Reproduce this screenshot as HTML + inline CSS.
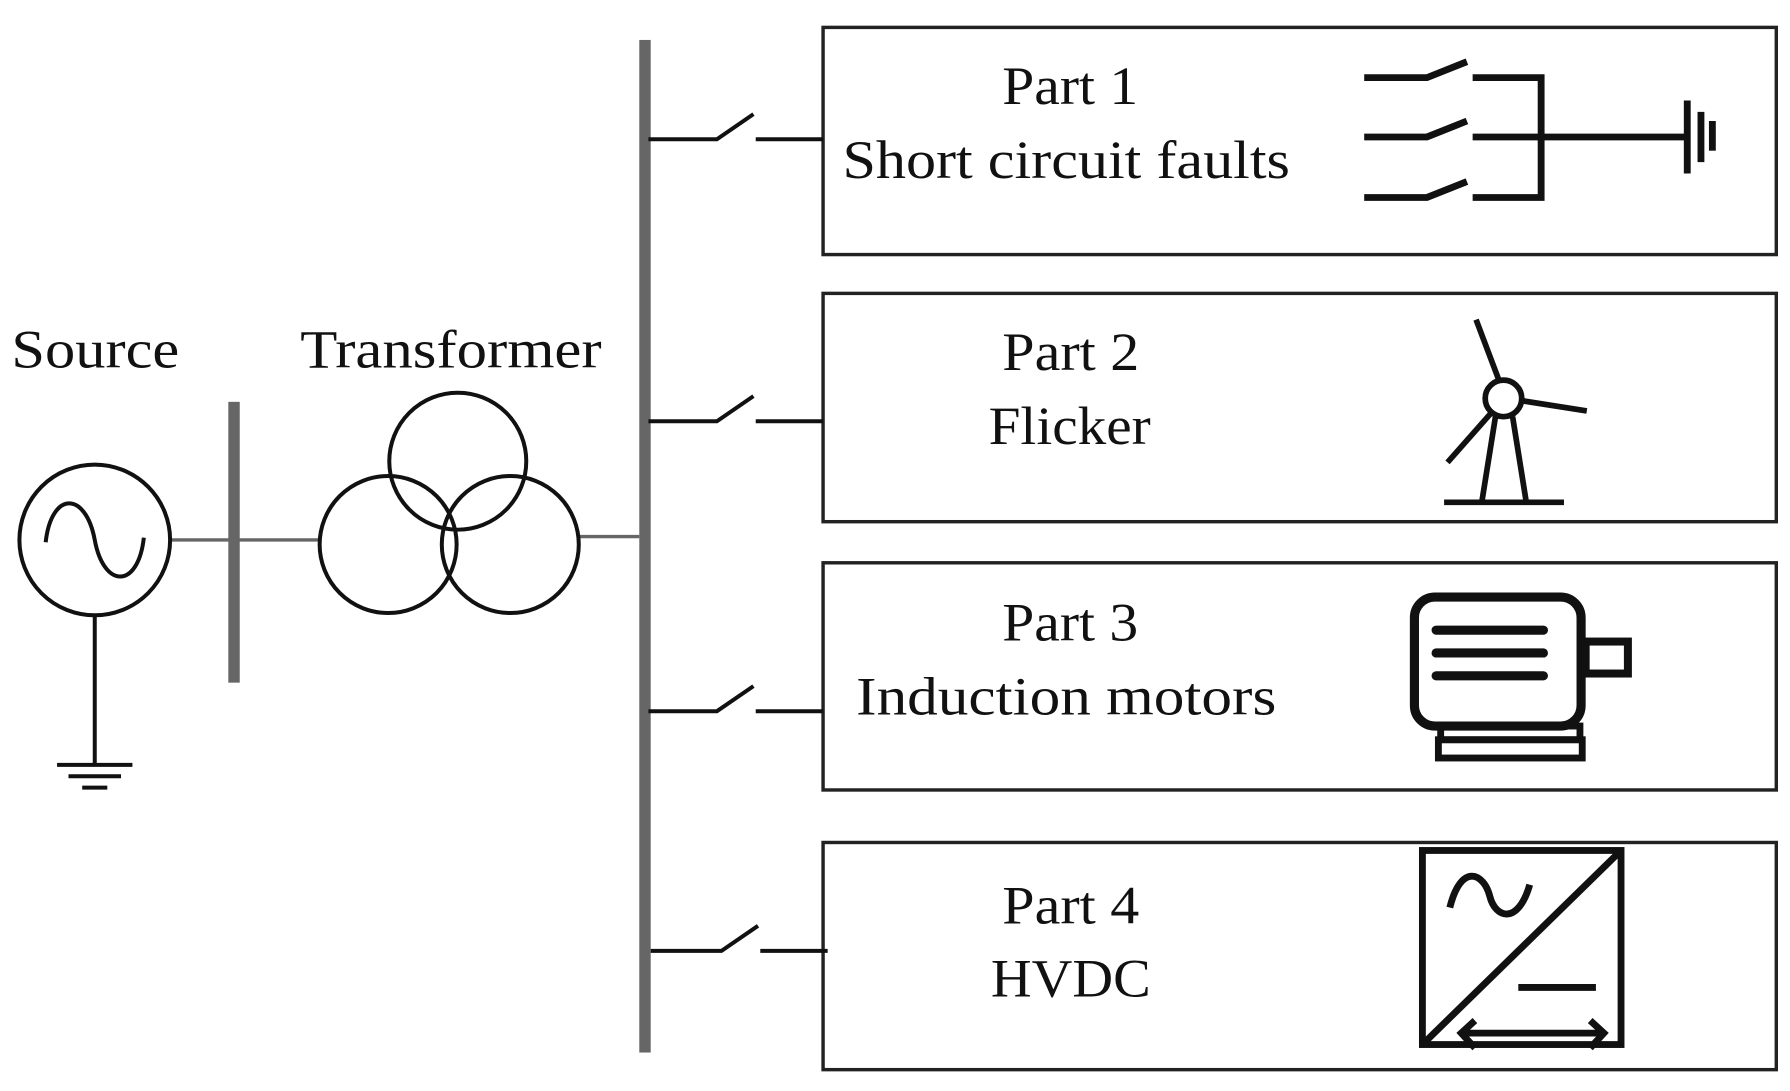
<!DOCTYPE html>
<html><head><meta charset="utf-8"><style>html,body{margin:0;padding:0;background:#fff}svg{display:block}</style></head>
<body>
<svg width="1790" height="1091" viewBox="0 0 1568 955.7" preserveAspectRatio="none" xmlns="http://www.w3.org/2000/svg">
<g font-family="Liberation Serif, serif" font-size="47" fill="#111" lengthAdjust="spacingAndGlyphs">
<text x="10" y="322" textLength="147" lengthAdjust="spacingAndGlyphs">Source</text>
<text x="263" y="322" textLength="264" lengthAdjust="spacingAndGlyphs">Transformer</text>
<text x="878" y="91" textLength="119" lengthAdjust="spacingAndGlyphs">Part 1</text>
<text x="738" y="156" textLength="392" lengthAdjust="spacingAndGlyphs">Short circuit faults</text>
<text x="878" y="324" textLength="120" lengthAdjust="spacingAndGlyphs">Part 2</text>
<text x="866" y="389" textLength="142" lengthAdjust="spacingAndGlyphs">Flicker</text>
<text x="878" y="561" textLength="119" lengthAdjust="spacingAndGlyphs">Part 3</text>
<text x="750" y="626" textLength="368" lengthAdjust="spacingAndGlyphs">Induction motors</text>
<text x="878" y="809" textLength="120" lengthAdjust="spacingAndGlyphs">Part 4</text>
<text x="868" y="873" textLength="140" lengthAdjust="spacingAndGlyphs">HVDC</text>
</g>
<g fill="none" stroke="#222" stroke-width="3">
<rect x="721" y="24" width="835" height="199"/>
<rect x="721" y="257" width="835" height="200"/>
<rect x="721" y="493" width="835" height="199"/>
<rect x="721" y="738" width="835" height="199"/>
</g>
<rect x="560" y="35" width="10" height="887" fill="#666"/>
<rect x="200" y="352" width="10" height="246" fill="#666"/>
<g stroke="#666" stroke-width="3"><line x1="150" y1="473" x2="280" y2="473"/><line x1="508" y1="470" x2="560" y2="470"/></g>
<g fill="none" stroke="#111" stroke-width="3.5">
<path d="M568 122H628L660 100M662 122H721"/>
<path d="M568 369H628L660 347M662 369H721"/>
<path d="M568 623H628L660 601M662 623H721"/>
<path d="M570 833H632L664 811M666 833H725"/>
<circle cx="83" cy="473" r="66"/>
<path d="M40 475C45 430 75 430 83 473C91 516 121 516 126 471"/>
<line x1="83" y1="540" x2="83" y2="670"/>
<line x1="50" y1="670" x2="116" y2="670"/><line x1="60" y1="680" x2="106" y2="680"/><line x1="72" y1="690" x2="94" y2="690"/>
<circle cx="401" cy="404" r="60"/><circle cx="340" cy="477" r="60"/><circle cx="447" cy="477" r="60"/>
</g>
<g fill="none" stroke="#111" stroke-width="6">
<path d="M1195 68H1250L1285 54M1290 68H1350V173H1290M1285 159L1250 173H1195M1195 120H1250L1285 106M1290 120H1478"/>
<line x1="1478" y1="88" x2="1478" y2="152"/><line x1="1490" y1="98" x2="1490" y2="142"/><line x1="1500" y1="106" x2="1500" y2="132"/>
</g>
<g fill="none" stroke="#111" stroke-width="5">
<circle cx="1317" cy="349" r="16"/>
<line x1="1313" y1="333" x2="1293" y2="280"/><line x1="1333" y1="351" x2="1390" y2="360"/><line x1="1306" y1="362" x2="1268" y2="405"/>
<line x1="1310" y1="365" x2="1298" y2="440"/><line x1="1325" y1="365" x2="1337" y2="440"/><line x1="1265" y1="440" x2="1370" y2="440"/>
</g>
<g fill="none" stroke="#111" stroke-width="8" stroke-linecap="round">
<rect x="1239" y="523" width="146" height="113" rx="18"/>
<line x1="1258" y1="552" x2="1352" y2="552"/><line x1="1258" y1="572" x2="1352" y2="572"/><line x1="1258" y1="592" x2="1352" y2="592"/>
<rect x="1389" y="562" width="37" height="28" stroke-width="7"/>
<rect x="1262" y="636" width="122" height="12" stroke-width="6"/>
<rect x="1260" y="648" width="126" height="16" stroke-width="6"/>
</g>
<g fill="none" stroke="#111" stroke-width="6">
<rect x="1246" y="745" width="174" height="170"/>
<line x1="1246" y1="915" x2="1420" y2="745"/>
<path d="M1270 795C1280 755 1300 765 1305 785C1310 805 1330 810 1340 775"/>
<line x1="1330" y1="865" x2="1398" y2="865"/>
<path d="M1280 905H1405M1292 894L1280 905L1292 918M1393 894L1405 905L1393 918"/>
</g>
</svg>
</body></html>
